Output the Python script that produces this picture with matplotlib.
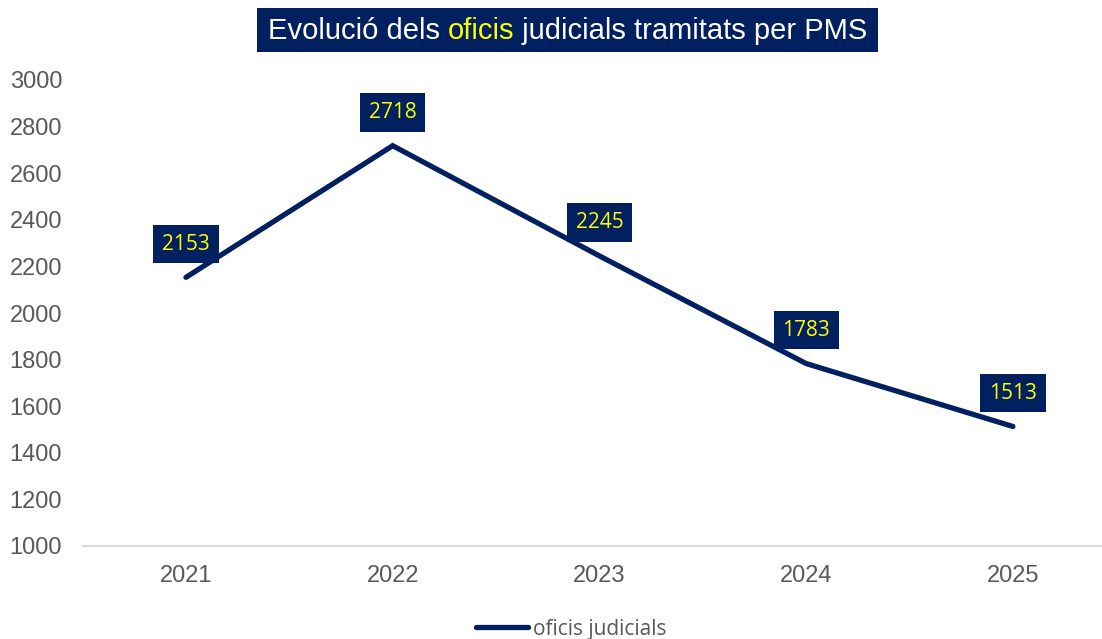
import matplotlib.pyplot as plt
import numpy as np

years = ["2021", "2022", "2023", "2024", "2025"]
oficis = [2153, 2718, 2245, 1783, 1513]
y_ticks = [1000, 1200, 1400, 1600, 1800, 2000, 2200, 2400, 2600, 2800, 3000]

NAVY = "#002060"
GRAY = "#595959"
YELLOW = "#FFFF00"

W, H = 1102, 639
fig = plt.figure(figsize=(W / 100, H / 100), dpi=100)
ax = fig.add_axes([83 / W, (H - 546) / H, 1 - 83 / W, (546 - 80) / H])

x = np.arange(len(years))
ax.plot(x, oficis, color=NAVY, lw=3.8, solid_capstyle="round", solid_joinstyle="miter")

for xi, v in zip(x, oficis):
    ax.annotate(str(v), (xi, v), xytext=(0, 24), textcoords="offset points",
                ha="center", va="center", color=YELLOW, fontsize=15,
                family="Open Sans",
                bbox=dict(boxstyle="square,pad=0.42", fc=NAVY, ec="none"))

ax.set_xlim(-0.498, 4.431)
ax.set_ylim(1000, 3000)
ax.set_xticks(x, years)
ax.set_yticks(y_ticks)
ax.tick_params(length=0, labelsize=17, labelcolor=GRAY)
ax.tick_params(axis="y", pad=15)
ax.tick_params(axis="x", pad=14)
for lab in ax.get_xticklabels() + ax.get_yticklabels():
    lab.set_family("Liberation Sans")
for s in ["top", "right", "left"]:
    ax.spines[s].set_visible(False)
ax.spines["bottom"].set_color("#D9D9D9")
ax.spines["bottom"].set_linewidth(1.5)

# title: box with coloured word
fig.patches.append(plt.Rectangle((257 / W, 1 - 52 / H), (878 - 257) / W, 44 / H,
                                 transform=fig.transFigure, fc=NAVY, ec="none"))
parts = [("Evolució dels ", "white"), ("oficis", YELLOW), (" judicials tramitats per PMS", "white")]
renderer = fig.canvas.get_renderer()
texts = []
for s, c in parts:
    t = fig.text(0, 1 - 31 / H, s, color=c, fontsize=21, family="Liberation Sans",
                 ha="left", va="center")
    texts.append(t)
widths = [t.get_window_extent(renderer).width for t in texts]
start = (257 + 878) / 2 - sum(widths) / 2
for t, w in zip(texts, widths):
    t.set_x(start / W)
    start += w

# legend
fig.add_artist(plt.Line2D([476 / W, 528 / W], [1 - 627 / H] * 2, color=NAVY, lw=3.8,
                          solid_capstyle="round"))
fig.text(533 / W, 1 - 629 / H, "oficis judicials", color=GRAY, fontsize=15,
         family="Open Sans", ha="left", va="center")

fig.savefig("out.png", dpi=100)
